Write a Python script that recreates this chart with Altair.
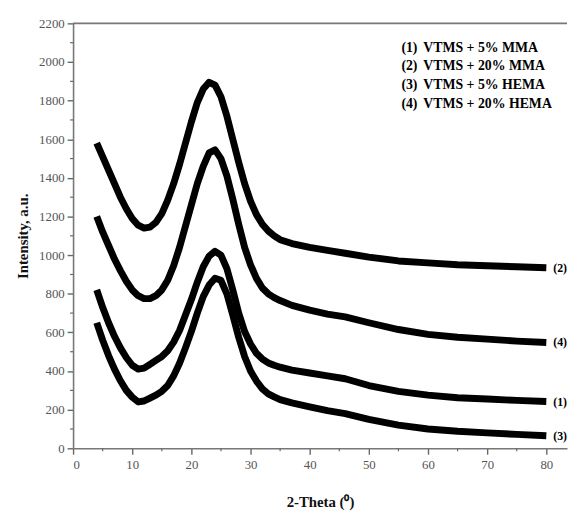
import altair as alt
import pandas as pd

two_theta = [4, 5, 6, 7, 8, 9, 10, 11, 12, 13, 14, 15, 16, 17, 18, 19, 20, 21, 22, 23,
             24, 25, 26, 27, 28, 29, 30, 31, 32, 33, 34, 35, 37, 40, 43, 46, 50, 55, 60,
             65, 70, 75, 80]

s2_mma20 = [1580, 1510, 1440, 1370, 1300, 1240, 1190, 1155, 1140, 1145, 1170, 1215, 1285,
            1370, 1470, 1580, 1690, 1790, 1860, 1895, 1880, 1820, 1720, 1600, 1480, 1370,
            1280, 1210, 1160, 1125, 1100, 1080, 1060, 1040, 1025, 1010, 990, 970, 960,
            950, 945, 940, 935]
s4_hema20 = [1200, 1120, 1050, 980, 920, 865, 820, 790, 775, 775, 790, 820, 870, 945,
             1040, 1150, 1260, 1370, 1460, 1530, 1545, 1500, 1410, 1290, 1160, 1040, 950,
             880, 830, 800, 780, 765, 740, 715, 695, 680, 650, 615, 590, 575, 565, 555, 548]
s1_mma5 = [820, 730, 650, 580, 520, 470, 430, 410, 415, 435, 455, 475, 505, 550, 610, 690,
           770, 860, 940, 995, 1020, 1000, 930, 820, 700, 605, 540, 492, 462, 442, 430, 420,
           405, 390, 375, 360, 325, 295, 275, 262, 255, 248, 242]
s3_hema5 = [650, 560, 480, 410, 350, 300, 265, 240, 245, 260, 275, 295, 325, 375, 440, 520,
            605, 700, 785, 845, 880, 870, 800, 690, 575, 475, 400, 348, 308, 282, 266, 252,
            235, 215, 195, 180, 150, 120, 100, 88, 80, 72, 65]

series_ids = ["(1)", "(2)", "(3)", "(4)"]
series_names = ["VTMS + 5% MMA", "VTMS + 20% MMA", "VTMS + 5% HEMA", "VTMS + 20% HEMA"]
series_values = [s1_mma5, s2_mma20, s3_hema5, s4_hema20]

x_ticks = [0, 10, 20, 30, 40, 50, 60, 70, 80]
x_minor = [5, 15, 25, 35, 45, 55, 65, 75]
y_ticks = [0, 200, 400, 600, 800, 1000, 1200, 1400, 1600, 1800, 2000, 2200]
y_minor = [100, 300, 500, 700, 900, 1100, 1300, 1500, 1700, 1900, 2100]

legend_y = [2071, 1980, 1880, 1782]

W, H = 501, 431
FONT = "Liberation Serif"

rows = []
for sid, vals in zip(series_ids, series_values):
    for t, v in zip(two_theta, vals):
        rows.append({"series": sid, "theta": t, "intensity": v})
df = pd.DataFrame(rows)

end_df = pd.DataFrame({
    "series": series_ids,
    "theta": [two_theta[-1]] * 4,
    "intensity": [v[-1] for v in series_values],
})

leg_df = pd.DataFrame({
    "id": series_ids,
    "name": series_names,
    "y": legend_y,
    "xi": [55.5] * 4,
    "xn": [59.2] * 4,
})

xscale = alt.Scale(domain=[0, 83.5], nice=False, zero=False)
yscale = alt.Scale(domain=[0, 2200], nice=False)

xaxis = alt.Axis(values=x_ticks, title="2-Theta (⁰)", grid=False, tickSize=6,
                 labelPadding=4, titlePadding=24, format="d", labelOverlap=False)
yaxis = alt.Axis(values=y_ticks, title="Intensity, a.u.", grid=False, tickSize=6,
                 labelPadding=3, titlePadding=8, format="d", labelOverlap=False)


def X(field):
    return alt.X(field, type="quantitative", scale=xscale, axis=xaxis)


def Y(field):
    return alt.Y(field, type="quantitative", scale=yscale, axis=yaxis)


lines = alt.Chart(df).mark_line(color="black", strokeWidth=7, strokeJoin="round").encode(
    x=X("theta"), y=Y("intensity"), detail="series:N",
)

end_labels = alt.Chart(end_df).mark_text(
    align="left", baseline="middle", dx=7, font=FONT, fontSize=12, fontWeight="bold",
    color="black"
).encode(x=X("theta"), y=Y("intensity"), text="series:N")

leg_ids = alt.Chart(leg_df).mark_text(
    align="left", baseline="middle", font=FONT, fontSize=14, fontWeight="bold", color="black"
).encode(x=X("xi"), y=Y("y"), text="id:N")
leg_names = alt.Chart(leg_df).mark_text(
    align="left", baseline="middle", font=FONT, fontSize=14, fontWeight="bold", color="black"
).encode(x=X("xn"), y=Y("y"), text="name:N")

top_line = alt.Chart(pd.DataFrame({"y": [2200]})).mark_rule(
    color="#777", strokeWidth=2
).encode(y=Y("y"), x=alt.value(0), x2=alt.value(W))

minor_x = alt.Chart(pd.DataFrame({"t": x_minor})).mark_rule(color="#666", strokeWidth=1.2).encode(
    x=X("t"), y=alt.value(H), y2=alt.value(H + 3)
)
minor_y = alt.Chart(pd.DataFrame({"v": y_minor})).mark_rule(color="#666", strokeWidth=1.2).encode(
    y=Y("v"), x=alt.value(-3), x2=alt.value(0)
)

chart = alt.layer(
    lines, top_line, minor_x, minor_y, end_labels, leg_ids, leg_names
).properties(
    width=W, height=H,
    autosize=alt.AutoSizeParams(type="none"),
    padding={"left": 66, "top": 12, "right": 1, "bottom": 60},
).configure_view(stroke=None).configure_axis(
    labelFont=FONT, labelFontSize=13, labelColor="#555",
    titleFont=FONT, titleFontSize=15, titleFontWeight="bold", titleColor="#111",
    domainColor="#777", domainWidth=1.6, tickColor="#666", tickWidth=1.4,
)

chart.save("out.html", embed_options={"renderer": "svg", "actions": False})
